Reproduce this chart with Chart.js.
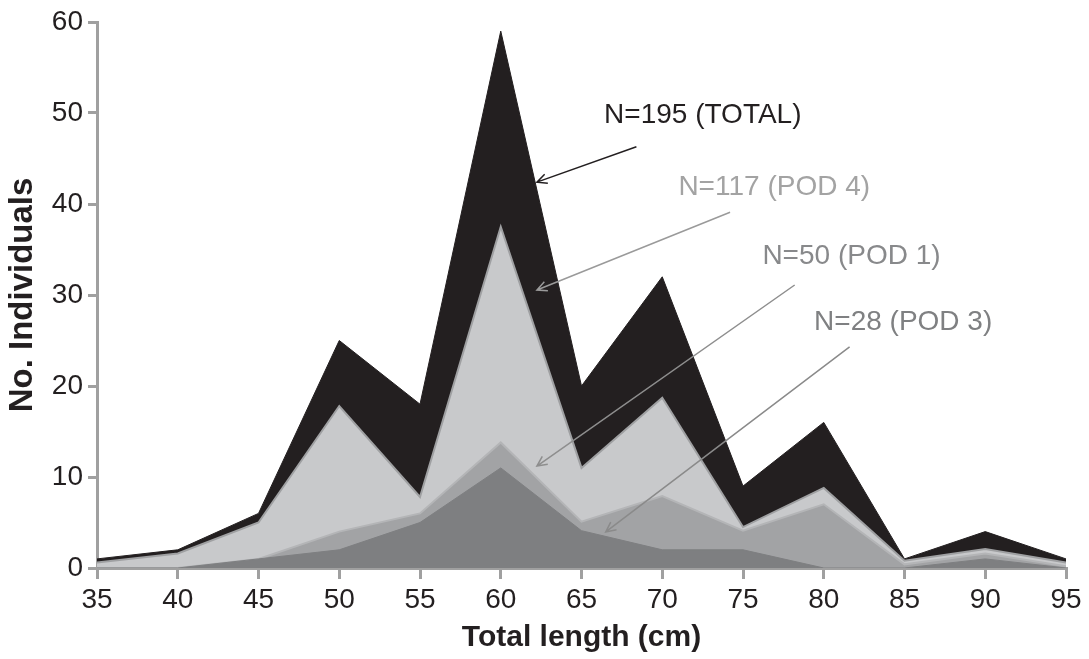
<!DOCTYPE html>
<html>
<head>
<meta charset="utf-8">
<script src="https://cdn.jsdelivr.net/npm/chart.js@4.4.1/dist/chart.umd.min.js"></script>
<style>
  html, body { margin: 0; padding: 0; background: #ffffff; }
  #wrap { width: 1089px; height: 659px; position: relative; }
</style>
</head>
<body>
<div id="wrap"><canvas id="c" width="1089" height="659"></canvas></div>
<script>
// ---- data ----
const lengths = [35, 40, 45, 50, 55, 60, 65, 70, 75, 80, 85, 90, 95];
const totalCounts = [1, 2, 6, 25, 18, 59, 20, 32, 9, 16, 1, 4, 1];
const pod4Counts  = [0.6, 1.6, 5, 17.8, 7.8, 37.5, 11, 18.7, 4.5, 8.8, 0.8, 2.1, 0.6];
const pod1Counts  = [0, 0, 1, 4, 6, 13.8, 5.1, 7.9, 4.1, 7, 0.4, 1.6, 0.2];
const pod3Counts  = [0, 0, 1, 2, 5, 11, 4.1, 2, 2, 0, 0, 1, 0];
const yTicks = [0, 10, 20, 30, 40, 50, 60];
const xTicks = [35, 40, 45, 50, 55, 60, 65, 70, 75, 80, 85, 90, 95];

// annotation labels and arrows (in data units)
const annTexts  = ['N=195 (TOTAL)', 'N=117 (POD 4)', 'N=50 (POD 1)', 'N=28 (POD 3)'];
const annTextX  = [66.4, 71.0, 76.2, 79.4];
const annTextY  = [49.8, 41.8, 34.2, 27.0];
const arrowFromX = [68.4, 74.2, 78.2, 81.6];
const arrowFromY = [46.3, 39.1, 31.1, 24.3];
const arrowToX   = [62.24, 62.24, 62.24, 66.5];
const arrowToY   = [42.4, 30.55, 11.2, 3.96];
const annColors  = ['#231f20', '#a3a3a3', '#88898b', '#7f8082'];
const arrowColors = ['#231f20', '#9a9a9a', '#8e8e8e', '#8a8a8a'];

const pts = vals => lengths.map((x, i) => ({ x: x, y: vals[i] }));

const annotationPlugin = {
  id: 'arrowLabels',
  afterDatasetsDraw(chart) {
    const ctx = chart.ctx;
    const xs = chart.scales.x, ys = chart.scales.y;
    ctx.save();
    ctx.font = '28px "Liberation Sans", Arial, sans-serif';
    ctx.textBaseline = 'middle';
    ctx.textAlign = 'left';
    for (let i = 0; i < annTexts.length; i++) {
      ctx.fillStyle = annColors[i];
      ctx.fillText(annTexts[i], xs.getPixelForValue(annTextX[i]), ys.getPixelForValue(annTextY[i]));
      const x1 = xs.getPixelForValue(arrowFromX[i]), y1 = ys.getPixelForValue(arrowFromY[i]);
      const x2 = xs.getPixelForValue(arrowToX[i]),   y2 = ys.getPixelForValue(arrowToY[i]);
      ctx.strokeStyle = arrowColors[i];
      ctx.lineWidth = 1.5;
      ctx.beginPath();
      ctx.moveTo(x1, y1); ctx.lineTo(x2, y2);
      const ang = Math.atan2(y1 - y2, x1 - x2);
      const hl = 11, ha = Math.PI / 7;
      ctx.moveTo(x2 + hl * Math.cos(ang + ha), y2 + hl * Math.sin(ang + ha));
      ctx.lineTo(x2, y2);
      ctx.lineTo(x2 + hl * Math.cos(ang - ha), y2 + hl * Math.sin(ang - ha));
      ctx.stroke();
    }
    ctx.restore();
  }
};

const axisGrey = '#a0a0a0';
const tickFont = { family: '"Liberation Sans", Arial, sans-serif', size: 28 };

new Chart(document.getElementById('c'), {
  type: 'line',
  data: {
    datasets: [
      { label: 'Total', data: pts(totalCounts), fill: 'origin', backgroundColor: '#231f20', borderColor: '#231f20', borderWidth: 1, pointRadius: 0, tension: 0, order: 4 },
      { label: 'POD 4', data: pts(pod4Counts), fill: 'origin', backgroundColor: '#c8c9cb', borderColor: '#9fa0a2', borderWidth: 2, pointRadius: 0, tension: 0, order: 3 },
      { label: 'POD 1', data: pts(pod1Counts), fill: 'origin', backgroundColor: '#a2a3a5', borderColor: '#b4b5b7', borderWidth: 2, pointRadius: 0, tension: 0, order: 2 },
      { label: 'POD 3', data: pts(pod3Counts), fill: 'origin', backgroundColor: '#7e7f81', borderColor: '#7e7f81', borderWidth: 1, pointRadius: 0, tension: 0, order: 1 }
    ]
  },
  options: {
    responsive: false,
    animation: false,
    events: [],
    layout: { padding: { top: 22, right: 23, bottom: 0, left: 0 } },
    plugins: { legend: { display: false }, tooltip: { enabled: false } },
    scales: {
      x: {
        type: 'linear', min: 35, max: 95, z: 1,
        afterBuildTicks: s => { s.ticks = xTicks.map(v => ({ value: v })); },
        afterFit: s => { s.height = 91; },
        ticks: { color: '#231f20', font: tickFont, padding: 4, maxRotation: 0, autoSkip: false },
        grid: { display: true, drawOnChartArea: false, drawTicks: true, tickLength: 11, color: axisGrey, lineWidth: 3 },
        border: { display: true, color: axisGrey, width: 3 },
        title: { display: true, text: 'Total length (cm)', color: '#231f20', font: { family: '"Liberation Sans", Arial, sans-serif', size: 30, weight: 'bold' }, padding: { top: 0, bottom: 3 } }
      },
      y: {
        min: 0, max: 60, z: 1,
        afterBuildTicks: s => { s.ticks = yTicks.map(v => ({ value: v })); },
        afterFit: s => { s.width = 97; },
        ticks: { color: '#231f20', font: tickFont, padding: 5 },
        grid: { display: true, drawOnChartArea: false, drawTicks: true, tickLength: 9, color: axisGrey, lineWidth: 3 },
        border: { display: true, color: axisGrey, width: 3 },
        title: { display: true, text: 'No. Individuals', color: '#231f20', font: { family: '"Liberation Sans", Arial, sans-serif', size: 33, weight: 'bold' }, padding: { top: 3, bottom: 0 } }
      }
    }
  },
  plugins: [annotationPlugin]
});
</script>
</body>
</html>
